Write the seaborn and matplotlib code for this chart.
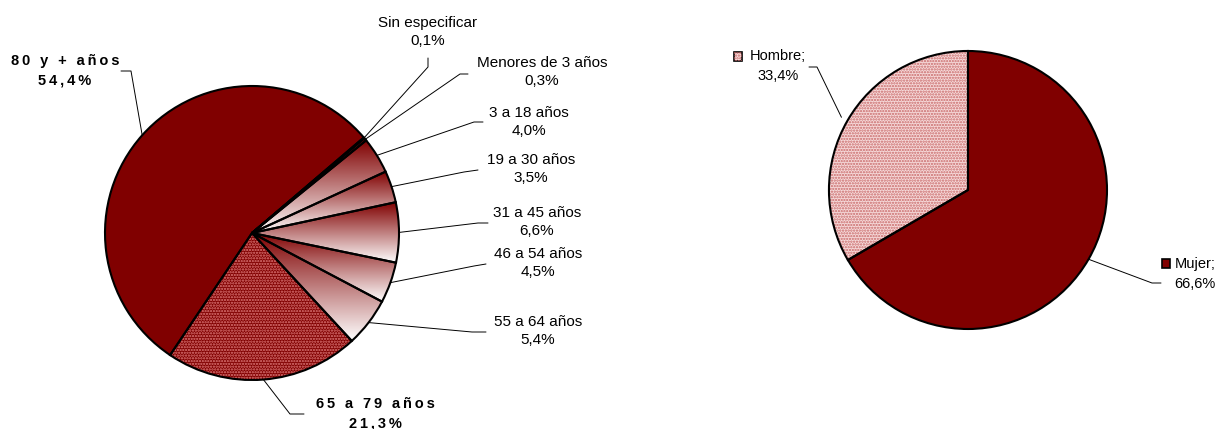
import numpy as np
import matplotlib
matplotlib.use("Agg")
import matplotlib.pyplot as plt
import seaborn as sns
from matplotlib.patches import Rectangle

# Datos: distribución por edad y por sexo (%)
edades = ["80 y + años", "65 a 79 años", "55 a 64 años", "46 a 54 años",
          "31 a 45 años", "19 a 30 años", "3 a 18 años",
          "Menores de 3 años", "Sin especificar"]
pct_edad = [54.4, 21.3, 5.4, 4.5, 6.6, 3.5, 4.0, 0.3, 0.1]

sexos = ["Hombre", "Mujer"]
pct_sexo = [33.4, 66.6]

sns.set_theme(style="white")
plt.rcParams["font.family"] = ["Liberation Sans", "DejaVu Sans"]
plt.rcParams["hatch.linewidth"] = 1.1

GRANATE = "#800000"
grad_cmap = sns.blend_palette(["#ffffff", GRANATE], as_cmap=True)

W, H = 1222, 429
fig = plt.figure(figsize=(W / 100, H / 100), dpi=100)
ax = fig.add_axes([0, 0, 1, 1])


def fmt(v):
    return f"{v:.1f}".replace(".", ",") + "%"


def espaciado(s):
    return "\u2009".join(s)


# ---------- pie de edades ----------
c1 = (252, H - 233)
r1 = 147
kw = dict(startangle=40.5, counterclock=True, center=c1, radius=r1)
colores = [GRANATE, GRANATE] + ["none"] * 7
wedges, _ = ax.pie(pct_edad, colors=colores, wedgeprops=dict(linewidth=0), **kw)

# 65 a 79 años: granate con trama de puntos
wedges[1].set_edgecolor("#e07c7c")
wedges[1].set_hatch("......")

# tramos pequeños: degradado vertical granate -> blanco
grad = np.linspace(0, 1, 256).reshape(-1, 1)
for w in wedges[2:]:
    t = np.radians(np.linspace(w.theta1, w.theta2, 50))
    xs = np.r_[c1[0], c1[0] + r1 * np.cos(t)]
    ys = np.r_[c1[1], c1[1] + r1 * np.sin(t)]
    im = ax.imshow(grad, cmap=grad_cmap, origin="lower", aspect="auto",
                   extent=[xs.min(), xs.max(), ys.min(), ys.max()], zorder=2)
    im.set_clip_path(w)

bordes, _ = ax.pie(pct_edad, wedgeprops=dict(fill=False, edgecolor="black",
                                             linewidth=1.5), **kw)
for b in bordes:
    b.set_zorder(3)

# etiquetas (posición del texto y codo de la guía)
etiq_pos = [(65, 71), (375, 414), (538, 331), (538, 263), (537, 222),
            (531, 169), (529, 122), (542, 72), (428, 32)]
codo = [(121, 71), (304, 414), (486, 332), (486, 264), (488, 223),
        (478, 170), (483, 122), (468, 74), (428, 58)]
codo2 = [(131, 71), (290, 414), (472, 332), (474, 266), (478, 223),
         (464, 172), (474, 122), (460, 74), (428, 67)]

for i, (nom, val) in enumerate(zip(edades, pct_edad)):
    w = bordes[i]
    a = np.radians((w.theta1 + w.theta2) / 2)
    px, py = c1[0] + r1 * np.cos(a), c1[1] + r1 * np.sin(a)
    xs = [codo[i][0], codo2[i][0], px]
    ys = [H - codo[i][1], H - codo2[i][1], py]
    ax.plot(xs, ys, color="black", lw=0.7, zorder=4)
    tx, ty = etiq_pos[i]
    if i < 2:
        ax.text(tx, H - ty, espaciado(nom) + "\n" + espaciado(fmt(val)),
                ha="center", va="center", fontsize=10.5, fontweight="bold",
                linespacing=1.5, color="black")
    else:
        ax.text(tx, H - ty, nom + "\n" + fmt(val), ha="center", va="center",
                fontsize=11, linespacing=1.45, color="black")

# ---------- pie de sexo ----------
c2 = (968, H - 190)
r2 = 139
expl = 0.05
kw2 = dict(startangle=90, counterclock=True, center=c2, radius=r2,
           explode=[expl, 0])
cols2 = ["#f6dada", GRANATE]
w2, _ = ax.pie(pct_sexo, colors=cols2, wedgeprops=dict(linewidth=0), **kw2)
w2[0].set_edgecolor("#c86868")
w2[0].set_hatch("......")
b2, _ = ax.pie(pct_sexo, wedgeprops=dict(fill=False, edgecolor="black",
                                         linewidth=1.5), **kw2)
for b in b2:
    b.set_zorder(3)

etiq2 = [(778, 66), (1195, 274)]
guia2 = [[(809, 67), (817, 67)], [(1161, 283), (1152, 283)]]
caja2 = [(734, 56), (1162, 263)]
for i, (nom, val) in enumerate(zip(sexos, pct_sexo)):
    w = b2[i]
    a = np.radians((w.theta1 + w.theta2) / 2)
    ex = expl * r2 if i == 0 else 0
    px = c2[0] + (r2 + ex) * np.cos(a)
    py = c2[1] + (r2 + ex) * np.sin(a)
    (x0, y0), (x1, y1) = guia2[i]
    ax.plot([x0, x1, px], [H - y0, H - y1, py], color="black", lw=0.7, zorder=4)
    tx, ty = etiq2[i]
    ax.text(tx, H - ty, f"{nom};\n{fmt(val)}", ha="center", va="center",
            fontsize=10.5, linespacing=1.6, color="black")
    bx, by = caja2[i]
    ax.add_patch(Rectangle((bx, H - by - 4.5), 8, 9, facecolor=cols2[i],
                           edgecolor="black", linewidth=1.2, zorder=4))
    if i == 0:
        ax.add_patch(Rectangle((bx, H - by - 4.5), 8, 9, facecolor="none",
                               edgecolor="#c86868", linewidth=0, hatch="......",
                               zorder=4))

ax.set_xlim(0, W)
ax.set_ylim(0, H)
ax.set_aspect("auto")
ax.axis("off")

fig.savefig("out.png", dpi=100, facecolor="white")
